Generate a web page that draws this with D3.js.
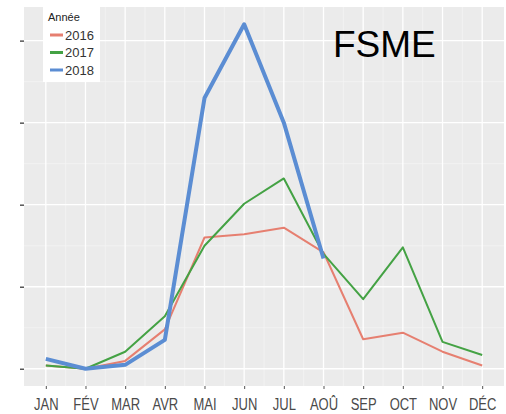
<!DOCTYPE html>
<html>
<head>
<meta charset="utf-8">
<script src="https://cdn.jsdelivr.net/npm/d3@7"></script>
<style>
  body { margin: 0; background: #fff; }
  svg { display: block; font-family: "Liberation Sans", Arial, sans-serif; }
</style>
</head>
<body>
<svg id="vis" width="506" height="414"></svg>
<script>
// months and monthly case counts
const months = ["JAN", "FÉV", "MAR", "AVR", "MAI", "JUN", "JUL", "AOÛ", "SEP", "OCT", "NOV", "DÉC"];
const cases2016 = [1, 0, 2.4, 12, 40, 41, 43, 35.5, 9, 11, 5.2, 1];
const cases2017 = [1, 0, 5.2, 16, 37.5, 50.3, 58, 35, 21.2, 37, 8.2, 4.2];
const cases2018 = [3, 0, 1.2, 8.8, 82.5, 105, 75, 33.6];
const yTicks = [0, 25, 50, 75, 100];
const years = ["2016", "2017", "2018"];

const yearColor = {
    "2016": "#e67f70",
    "2017": "#44a244",
    "2018": "#5b8dd3"
};
const yearWidth = { "2016": 2, "2017": 2, "2018": 4 };

const svg = d3.select('#vis');
const panel = { left: 24, right: 504, top: 7, bottom: 386 };

const x = d3.scaleLinear()
    .domain([1 - 0.55, 12 + 0.55])
    .range([panel.left, panel.right]);

const yMax = 105;
const yPad = yMax * 0.05;
const y = d3.scaleLinear()
    .domain([0 - yPad, yMax + yPad])
    .range([panel.bottom, panel.top]);

// panel background
svg.append("rect")
    .attr("x", panel.left)
    .attr("y", panel.top)
    .attr("width", panel.right - panel.left)
    .attr("height", panel.bottom - panel.top)
    .attr("fill", "#ebebeb");

// minor grid
const minorX = d3.range(1.5, 12, 1);
const minorY = d3.range(12.5, 105, 25);
svg.selectAll(".minor-x").data(minorX).enter().append("line")
    .attr("x1", d => x(d)).attr("x2", d => x(d))
    .attr("y1", panel.top).attr("y2", panel.bottom)
    .attr("stroke", "#f5f5f5").attr("stroke-width", 0.7);
svg.selectAll(".minor-y").data(minorY).enter().append("line")
    .attr("y1", d => y(d)).attr("y2", d => y(d))
    .attr("x1", panel.left).attr("x2", panel.right)
    .attr("stroke", "#f5f5f5").attr("stroke-width", 0.7);

// major grid
svg.selectAll(".major-x").data(d3.range(1, 13)).enter().append("line")
    .attr("x1", d => x(d)).attr("x2", d => x(d))
    .attr("y1", panel.top).attr("y2", panel.bottom)
    .attr("stroke", "#ffffff").attr("stroke-width", 1.3);
svg.selectAll(".major-y").data(yTicks).enter().append("line")
    .attr("y1", d => y(d)).attr("y2", d => y(d))
    .attr("x1", panel.left).attr("x2", panel.right)
    .attr("stroke", "#ffffff").attr("stroke-width", 1.3);

// axes
const xAxis = svg.append("g")
    .attr("transform", "translate(0," + panel.bottom + ")")
    .call(d3.axisBottom(x)
        .tickValues(d3.range(1, 13))
        .tickSize(3)
        .tickPadding(0)
        .tickFormat(d => months[d - 1]));
xAxis.select(".domain").remove();
xAxis.selectAll("line").attr("stroke", "#555");
// labels in the picture are a bit stretched vertically
xAxis.selectAll("text")
    .attr("fill", "#4a4a4a")
    .attr("dy", null)
    .attr("y", 0)
    .attr("transform", function (d) { return "translate(0,24) scale(1,1.28)"; })
    .style("font-size", "13px");

const yAxis = svg.append("g")
    .attr("transform", "translate(" + panel.left + ",0)")
    .call(d3.axisLeft(y)
        .tickValues(yTicks)
        .tickSize(4)
        .tickFormat(""));
yAxis.select(".domain").remove();
yAxis.selectAll("line").attr("stroke", "#555").attr("stroke-width", 1.5);

// lines
const line = d3.line()
    .x((d, i) => x(i + 1))
    .y(d => y(d));

const series = [
    { year: "2016", values: cases2016 },
    { year: "2017", values: cases2017 },
    { year: "2018", values: cases2018 }
];

svg.selectAll(".series").data(series).enter().append("path")
    .attr("class", "series")
    .attr("d", d => line(d.values))
    .attr("fill", "none")
    .attr("stroke", d => yearColor[d.year])
    .attr("stroke-width", d => yearWidth[d.year])
    .attr("stroke-linejoin", "round");

// legend
const legend = svg.append("g").attr("transform", "translate(43,7)");
legend.append("rect")
    .attr("width", 57).attr("height", 75)
    .attr("fill", "#ffffff");
legend.append("text")
    .attr("x", 5).attr("y", 14)
    .attr("fill", "#222")
    .style("font-size", "11px")
    .text("Année");
const item = legend.selectAll(".item").data(years).enter().append("g")
    .attr("transform", (d, i) => "translate(0," + (28 + i * 17.5) + ")");
item.append("line")
    .attr("x1", 7).attr("x2", 20)
    .attr("stroke", d => yearColor[d])
    .attr("stroke-width", 3);
item.append("text")
    .attr("x", 22).attr("y", 4.5)
    .attr("fill", "#333")
    .style("font-size", "13px")
    .text(d => d);

// title inside the panel
svg.append("text")
    .attr("x", 333).attr("y", 57)
    .attr("fill", "#000")
    .style("font-size", "37px")
    .text("FSME");
</script>
</body>
</html>
